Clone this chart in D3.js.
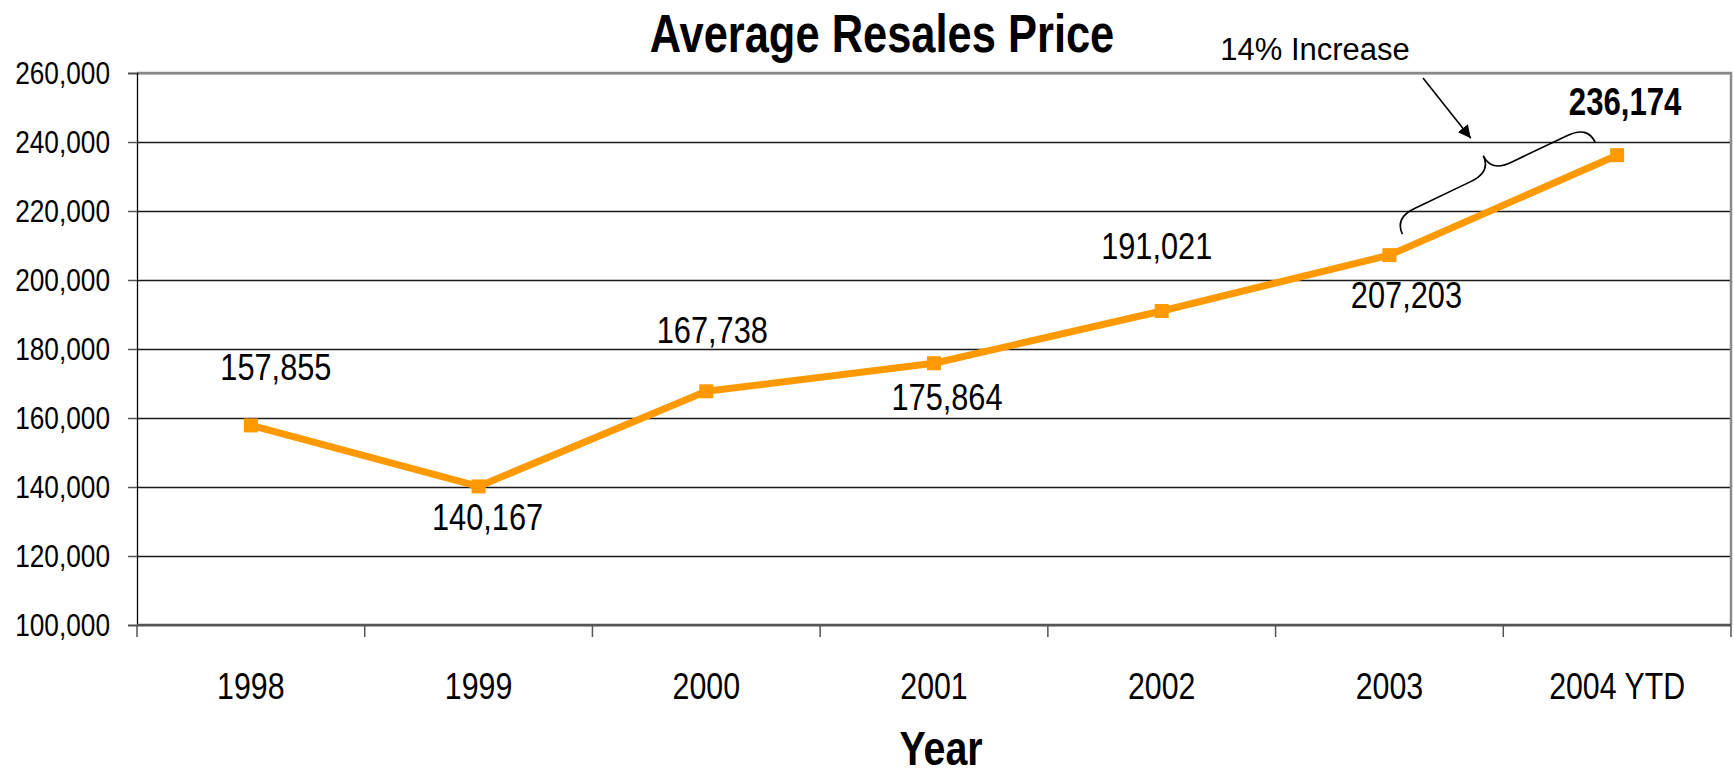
<!DOCTYPE html>
<html>
<head>
<meta charset="utf-8">
<script src="https://cdn.jsdelivr.net/npm/d3@7"></script>
<style>
	body { margin: 0; background: #fff; }
	svg { display: block; }
</style>
</head>
<body>
<svg id="chart" width="1734" height="772"></svg>
<script>
"use strict";

// Data
var years = ["1998", "1999", "2000", "2001", "2002", "2003", "2004 YTD"];
var prices = [157855, 140167, 167738, 175864, 191021, 207203, 236174];
var yTicks = [100000, 120000, 140000, 160000, 180000, 200000, 220000, 240000, 260000];

// Where each value label sits relative to its point (the original ones were hand placed)
var labelDx = [25, 9, 6, 13, -5, 17, 8];
var labelDy = [-45, 44, -48, 47, -52, 53, -40];

var svg = d3.select("#chart");
var margin = {top: 73, right: 3, bottom: 147, left: 137};
var width = +svg.attr("width") - margin.left - margin.right;
var height = +svg.attr("height") - margin.top - margin.bottom;

// Arial Narrow look: use the real narrow face if it is there, otherwise squeeze Liberation Sans.
// Both measurements fall back to Liberation Sans so a missing face gives equal widths.
function narrowAvailable() {
	var t = svg.append("text").style("font-size", "100px").text("0123456789");
	t.style("font-family", "'Liberation Sans Narrow', 'Liberation Sans'");
	var w1 = t.node().getComputedTextLength();
	t.style("font-family", "'Liberation Sans'");
	var w2 = t.node().getComputedTextLength();
	t.remove();
	return w1 < w2 * 0.95;
}
var hasNarrow = narrowAvailable();
var narrowFamily = hasNarrow ? "'Liberation Sans Narrow', 'Liberation Sans', sans-serif" : "'Liberation Sans', Arial, sans-serif";
var squeeze = hasNarrow ? 1 : 0.82;

// Put text at (x, y) with the narrow squeeze applied around its anchor
function place(sel, x, y) {
	sel.attr("x", 0).attr("y", 0)
		.attr("transform", "translate(" + x + "," + y + ") scale(" + squeeze + ",1)")
		.style("font-family", narrowFamily);
}

var x = d3.scaleBand()
	.domain(years)
	.range([0, width]);
var y = d3.scaleLinear()
	.domain([100000, 260000])
	.range([height, 0]);

var chart = svg.append("g")
	.attr("transform", "translate(" + margin.left + "," + margin.top + ")");

// Horizontal grid lines
chart.append("g")
	.attr("class", "grid")
	.call(d3.axisLeft(y).tickValues(yTicks).tickSize(-width).tickFormat(""))
	.call(function(g) {
		g.select(".domain").remove();
		g.selectAll("line").attr("stroke", "#1a1a1a").attr("stroke-width", 1.3);
	});

// Plot frame: top and right in grey
chart.append("path")
	.attr("d", "M0,0 H" + width + " V" + height)
	.attr("fill", "none")
	.attr("stroke", "#8a8a8a")
	.attr("stroke-width", 2.5);

// Y axis with labels
var yAxisElt = chart.append("g")
	.call(d3.axisLeft(y).tickValues(yTicks).tickSize(9).tickPadding(0).tickFormat(d3.format(",")));
yAxisElt.select(".domain").attr("stroke", "#000").attr("stroke-width", 1.3);
yAxisElt.selectAll(".tick line").attr("stroke", "#555").attr("stroke-width", 1.5);
yAxisElt.selectAll(".tick text")
	.attr("dy", null)
	.style("font-size", "32px")
	.attr("fill", "#000")
	.each(function() { place(d3.select(this), -27, 10); });

// X axis: base line, ticks between categories, labels centred
var xAxisElt = chart.append("g")
	.attr("transform", "translate(0," + height + ")");
xAxisElt.append("line")
	.attr("x1", 0).attr("x2", width)
	.attr("stroke", "#555").attr("stroke-width", 2.5);
xAxisElt.selectAll("line.tick")
	.data(years.concat([null]))
	.enter()
	.append("line")
	.attr("class", "tick")
	.attr("x1", function(d) { return d === null ? width : x(d); })
	.attr("x2", function(d) { return d === null ? width : x(d); })
	.attr("y1", 0).attr("y2", 12)
	.attr("stroke", "#555").attr("stroke-width", 1.5);
xAxisElt.selectAll("text.cat")
	.data(years)
	.enter()
	.append("text")
	.attr("class", "cat")
	.attr("text-anchor", "middle")
	.style("font-size", "37px")
	.text(function(d) { return d; })
	.each(function(d) { place(d3.select(this), x(d) + x.bandwidth() / 2, 74); });

// The price line
var points = years.map(function(d, i) { return {year: d, price: prices[i], i: i}; });
var line = d3.line()
	.x(function(d) { return x(d.year) + x.bandwidth() / 2; })
	.y(function(d) { return y(d.price); });

chart.append("path")
	.datum(points)
	.attr("d", line)
	.attr("fill", "none")
	.attr("stroke", "#ff9900")
	.attr("stroke-width", 7)
	.attr("stroke-linejoin", "round");

chart.selectAll("rect.marker")
	.data(points)
	.enter()
	.append("rect")
	.attr("class", "marker")
	.attr("x", function(d) { return x(d.year) + x.bandwidth() / 2 - 7; })
	.attr("y", function(d) { return y(d.price) - 7; })
	.attr("width", 14)
	.attr("height", 14)
	.attr("fill", "#ff9900");

// Value labels, the last one in bold
chart.selectAll("text.value")
	.data(points)
	.enter()
	.append("text")
	.attr("class", "value")
	.attr("text-anchor", "middle")
	.style("font-size", function(d) { return d.i === points.length - 1 ? "38px" : "37.5px"; })
	.style("font-weight", function(d) { return d.i === points.length - 1 ? "bold" : "normal"; })
	.text(function(d) { return d3.format(",")(d.price); })
	.each(function(d) {
		place(d3.select(this), x(d.year) + x.bandwidth() / 2 + labelDx[d.i], y(d.price) + labelDy[d.i]);
	});

// Brace between the last two points and the "14% Increase" note
var p2003 = [x(years[5]) + x.bandwidth() / 2, y(prices[5])];
var p2004 = [x(years[6]) + x.bandwidth() / 2, y(prices[6])];
var braceA = [p2003[0] + 13, p2003[1] - 21];
var braceB = [p2004[0] - 22, p2004[1] - 13];

function bracePath(a, b, depth, r) {
	var dx = b[0] - a[0], dy = b[1] - a[1];
	var len = Math.sqrt(dx * dx + dy * dy);
	var u = [dx / len, dy / len];
	var n = [u[1], -u[0]]; // points away from the line (up and left)
	function at(t, s) { return (a[0] + u[0] * t + n[0] * s) + "," + (a[1] + u[1] * t + n[1] * s); }
	var h = depth / 2, m = len / 2;
	return "M" + at(0, 0) +
		" Q" + at(0, h) + " " + at(r, h) +
		" L" + at(m - r, h) +
		" Q" + at(m, h) + " " + at(m, depth) +
		" Q" + at(m, h) + " " + at(m + r, h) +
		" L" + at(len - r, h) +
		" Q" + at(len, h) + " " + at(len, 0);
}

chart.append("path")
	.attr("d", bracePath(braceA, braceB, 36, 22))
	.attr("fill", "none")
	.attr("stroke", "#000")
	.attr("stroke-width", 1.6);

svg.append("defs").append("marker")
	.attr("id", "arrowhead")
	.attr("viewBox", "0 0 10 10")
	.attr("refX", 10).attr("refY", 5)
	.attr("markerWidth", 8).attr("markerHeight", 8)
	.attr("markerUnits", "strokeWidth")
	.attr("orient", "auto")
	.append("path")
	.attr("d", "M0,0 L10,5 L0,10 Z")
	.attr("fill", "#000");

var cusp = [(braceA[0] + braceB[0]) / 2, (braceA[1] + braceB[1]) / 2];
chart.append("line")
	.attr("x1", 1423 - margin.left).attr("y1", 78 - margin.top)
	.attr("x2", cusp[0] - 28).attr("y2", cusp[1] - 50)
	.attr("stroke", "#000")
	.attr("stroke-width", 1.6)
	.attr("marker-end", "url(#arrowhead)");

svg.append("text")
	.attr("x", 1315).attr("y", 60)
	.attr("text-anchor", "middle")
	.style("font-family", "'Liberation Sans', Arial, sans-serif")
	.style("font-size", "31px")
	.text("14% Increase");

// Title and axis title
svg.append("text")
	.attr("text-anchor", "middle")
	.style("font-size", "53px")
	.style("font-weight", "bold")
	.text("Average Resales Price")
	.call(place, 882, 52);

svg.append("text")
	.attr("text-anchor", "middle")
	.style("font-size", "48px")
	.style("font-weight", "bold")
	.text("Year")
	.call(place, 941, 765);
</script>
</body>
</html>
